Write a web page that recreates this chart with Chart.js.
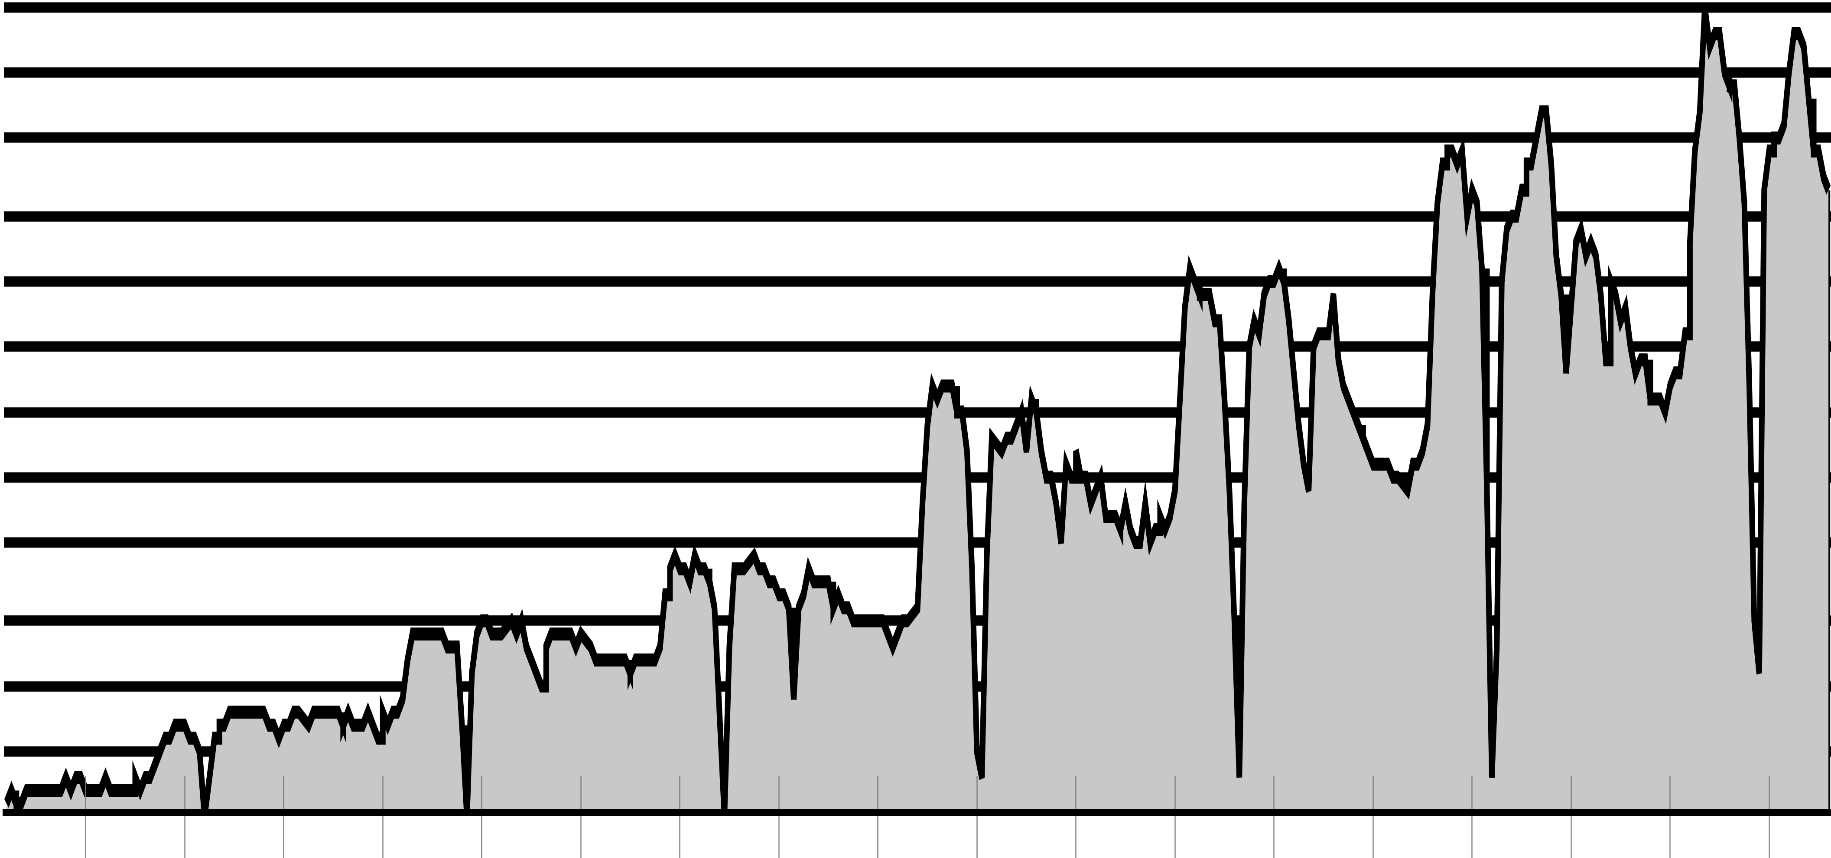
<!DOCTYPE html>
<html lang="en">
<head>
    <meta charset="UTF-8">
    <title>Daily area chart</title>
    <script src="https://cdn.jsdelivr.net/npm/chart.js@4"></script>
    <style>
        html, body { margin: 0; padding: 0; background: #fff; overflow: hidden; }
        #wrap { position: relative; width: 1831px; height: 858px; overflow: hidden; }
        /* the chart is laid out small and stretched, so strokes get thick on flat parts and thin on steep ones */
        #chart { position: absolute; left: 0; top: 0; transform-origin: 0 0; transform: scale(5.63385, 13); }
    </style>
</head>
<body>
<div id="wrap"><canvas id="chart" width="325" height="66"></canvas></div>

<script>
    // one value per day
    const visits = [
        1, 2, 1, 1, 2, 2, 2, 2, 2, 2, 2, 2, 3, 2, 3, 3, 2, 2, 2, 2,
        3, 2, 2, 2, 2, 2, 3, 2, 3, 3, 4, 5, 6, 6, 7, 7, 7, 6, 6, 5,
        0, 3, 6, 7, 7, 8, 8, 8, 8, 8, 8, 8, 8, 7, 7, 6, 7, 7, 8, 8,
        8, 7, 8, 8, 8, 8, 8, 8, 7, 8, 7, 7, 7, 8, 7, 6, 8, 7, 8, 8,
        9, 12, 14, 14, 14, 14, 14, 14, 14, 13, 13, 13, 7, 0, 11, 14, 15, 15, 14, 14,
        14, 14, 15, 14, 15, 13, 12, 11, 10, 13, 14, 14, 14, 14, 14, 13, 14, 14, 13, 12,
        12, 12, 12, 12, 12, 12, 11, 12, 12, 12, 12, 12, 13, 17, 19, 20, 19, 19, 18, 20,
        19, 19, 18, 16, 8, 0, 13, 19, 19, 19, 19, 20, 19, 19, 18, 18, 17, 17, 16, 9,
        16, 17, 19, 18, 18, 18, 18, 16, 17, 16, 16, 15, 15, 15, 15, 15, 15, 15, 14, 13,
        14, 15, 15, 15, 16, 24, 30, 33, 32, 33, 33, 33, 31, 31, 28, 19, 5, 3, 20, 29,
        29, 28, 29, 29, 30, 31, 28, 32, 31, 28, 26, 26, 24, 21, 27, 26, 28, 26, 26, 24,
        25, 26, 23, 23, 23, 22, 24, 22, 21, 21, 24, 21, 22, 23, 22, 23, 25, 32, 39, 42,
        41, 40, 40, 40, 38, 38, 32, 25, 15, 3, 24, 36, 38, 37, 40, 41, 41, 42, 41, 38,
        34, 30, 27, 25, 36, 37, 37, 37, 40, 35, 33, 32, 31, 30, 29, 28, 27, 27, 27, 27,
        26, 26, 26, 25, 27, 27, 28, 30, 40, 47, 50, 51, 51, 50, 51, 46, 48, 47, 42, 25,
        3, 13, 41, 45, 46, 46, 48, 50, 50, 52, 54, 54, 50, 43, 40, 34, 39, 44, 45, 43,
        44, 43, 40, 35, 41, 40, 38, 39, 36, 34, 35, 35, 32, 32, 32, 31, 33, 34, 34, 37,
        44, 51, 54, 62, 59, 60, 60, 57, 56, 56, 52, 47, 33, 15, 11, 48, 51, 52, 52, 53,
        57, 60, 60, 59, 55, 51, 51, 49, 48
    ];
    const days = visits.map((_, i) => i);

    // horizontal grid lines and x tick marks (every 20 days)
    const gridValues = [5, 10, 15, 21, 26, 31, 36, 41, 46, 52, 57, 62];
    const tickDays = [16, 36, 56, 76, 96, 116, 136, 156, 176, 196, 216, 236, 256, 276, 296, 316, 336, 356];

    const lastDay = days[days.length - 1];
    const xMin = -0.5;
    const xMax = lastDay + 0.5;

    // svg-like joins
    const miterPlugin = {
        id: 'miter',
        beforeDatasetsDraw(chart) { chart.ctx.miterLimit = 4; }
    };

    new Chart(document.getElementById('chart'), {
        type: 'line',
        data: {
            labels: days,
            datasets: [{
                data: visits,
                borderColor: '#000',
                borderWidth: 1,
                backgroundColor: '#c8c8c8',
                fill: 'origin',
                pointRadius: 0,
                tension: 0,
                clip: 0
            }, {
                // closing edge of the area on the right
                data: [{ x: lastDay, y: visits[lastDay] }, { x: lastDay, y: 0 }],
                borderColor: '#000',
                borderWidth: 0.6,
                fill: false,
                pointRadius: 0,
                clip: 0
            }]
        },
        options: {
            responsive: false,
            animation: false,
            devicePixelRatio: 13,
            events: [],
            layout: { padding: { left: 0.71, right: 0, top: 0, bottom: 3.465 } },
            plugins: { legend: { display: false }, tooltip: { enabled: false } },
            scales: {
                x: {
                    type: 'linear',
                    min: xMin,
                    max: xMax,
                    position: { y: 3.11 },
                    border: { display: false },
                    grid: { z: 1, drawOnChartArea: false, drawTicks: true, tickLength: 6.31, tickWidth: 0.18, tickColor: '#7a7a7a' },
                    ticks: { display: false },
                    afterBuildTicks: axis => { axis.ticks = tickDays.map(v => ({ value: v })); }
                },
                xb: {
                    type: 'linear',
                    axis: 'x',
                    position: 'bottom',
                    min: xMin,
                    max: xMax,
                    grid: { display: false, drawTicks: false },
                    ticks: { display: false },
                    border: { display: true, color: '#000', width: 0.54, z: 1 }
                },
                y: {
                    min: 0.28,
                    max: 62.57,
                    border: { display: false },
                    grid: { color: '#000', lineWidth: 0.82, drawTicks: false },
                    ticks: { display: false },
                    afterBuildTicks: axis => { axis.ticks = gridValues.map(v => ({ value: v })); }
                }
            }
        },
        plugins: [miterPlugin]
    });
</script>
</body>
</html>
